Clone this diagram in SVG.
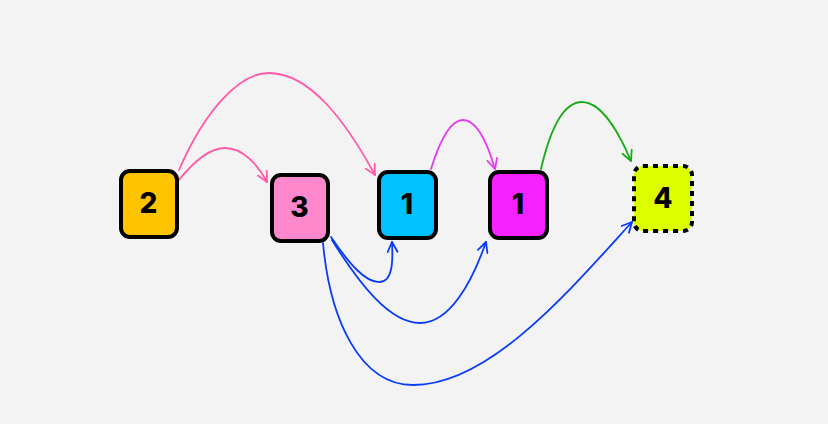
<svg xmlns="http://www.w3.org/2000/svg" width="828" height="424" viewBox="0 0 828 424">
<defs>
<style>
.node{stroke:#000;stroke-width:4}
.lbl{font-family:Inter,"Liberation Sans",sans-serif;font-weight:800;font-size:28px;fill:#000;text-anchor:middle;dominant-baseline:central}
.edge{fill:none;stroke-width:1.8;stroke-linecap:round}
.pink{stroke:#ff5aa8}
.mag{stroke:#e53cf0}
.green{stroke:#1aaa1a}
.blue{stroke:#0a3cf5}
</style>
<marker id="ap" viewBox="0 0 12 12" refX="11" refY="6" markerWidth="12" markerHeight="12" markerUnits="userSpaceOnUse" orient="auto"><path d="M1,1 L11,6 L1,11" fill="none" stroke="#ff5aa8" stroke-width="1.8" stroke-linecap="round" stroke-linejoin="round"/></marker>
<marker id="am" viewBox="0 0 12 12" refX="11" refY="6" markerWidth="12" markerHeight="12" markerUnits="userSpaceOnUse" orient="auto"><path d="M1,1 L11,6 L1,11" fill="none" stroke="#e53cf0" stroke-width="1.8" stroke-linecap="round" stroke-linejoin="round"/></marker>
<marker id="ag" viewBox="0 0 12 12" refX="11" refY="6" markerWidth="12" markerHeight="12" markerUnits="userSpaceOnUse" orient="auto"><path d="M1,1 L11,6 L1,11" fill="none" stroke="#1aaa1a" stroke-width="1.8" stroke-linecap="round" stroke-linejoin="round"/></marker>
<marker id="ab" viewBox="0 0 12 12" refX="11" refY="6" markerWidth="12" markerHeight="12" markerUnits="userSpaceOnUse" orient="auto"><path d="M1,1 L11,6 L1,11" fill="none" stroke="#0a3cf5" stroke-width="1.8" stroke-linecap="round" stroke-linejoin="round"/></marker>
</defs>
<rect width="828" height="424" fill="#f3f3f3"/>
<g id="connectors">
<path class="edge pink" d="M179,170 C205,110 240,72 270,73 C310,74 345,120 375,175" marker-end="url(#ap)"/>
<path class="edge pink" d="M179,180 C195,160 210,148 225,148 C243,148 258,165 267,182" marker-end="url(#ap)"/>
<path class="edge mag" d="M431,169 C440,140 450,120 463,120 C477,120 488,145 495,169" marker-end="url(#am)"/>
<path class="edge green" d="M541,169 C550,130 563,102 582,102 C602,102 620,135 631,161" marker-end="url(#ag)"/>
<path class="edge blue" d="M331,237 C348,262 365,283 380,282 C393,281 393,260 392,242" marker-end="url(#ab)"/>
<path class="edge blue" d="M332,240 C360,285 390,323 420,323 C450,323 472,282 486,242" marker-end="url(#ab)"/>
<path class="edge blue" d="M323,243 C330,320 360,385 413,385 C490,385 570,290 632,222" marker-end="url(#ab)"/>
</g>
<g id="node-2"><rect class="node" x="121" y="171" width="56" height="66" rx="9" fill="#ffc400"/><text class="lbl" x="148.5" y="203">2</text></g>
<g id="node-3"><rect class="node" x="272" y="175" width="56" height="66" rx="9" fill="#ff88cc"/><text class="lbl" x="299.5" y="207">3</text></g>
<g id="node-1a"><rect class="node" x="379" y="172" width="57" height="66" rx="9" fill="#00c2ff"/><text class="lbl" x="407" y="204">1</text></g>
<g id="node-1b"><rect class="node" x="490" y="172" width="57" height="66" rx="9" fill="#f522ff"/><text class="lbl" x="518" y="204">1</text></g>
<g id="node-4"><rect class="node" x="634" y="166" width="58" height="65" rx="9" fill="#dcff00" stroke-width="4.5" stroke-dasharray="5 5"/><text class="lbl" x="663" y="197.5">4</text></g>
</svg>
